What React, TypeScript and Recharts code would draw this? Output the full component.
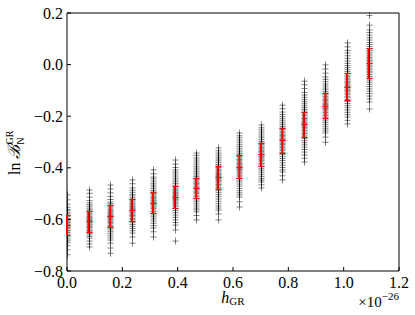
import { ScatterChart, Scatter, XAxis, YAxis, Label } from "recharts";

// h_GR injection amplitudes (units of 1e-26)
const hValues = [0, 0.078, 0.156, 0.234, 0.311, 0.389, 0.467, 0.545, 0.623, 0.701, 0.778, 0.856, 0.934, 1.012, 1.09];

// ln B values of every run, one list per h_GR column
const lnB = [
  [-0.505, -0.524, -0.541, -0.553, -0.561, -0.566, -0.574, -0.579, -0.586, -0.59, -0.597, -0.601, -0.606, -0.611, -0.614, -0.619, -0.623, -0.627, -0.632, -0.636, -0.642, -0.645, -0.651, -0.657, -0.662, -0.668, -0.676, -0.683, -0.691, -0.702, -0.718, -0.737],
  [-0.486, -0.499, -0.514, -0.527, -0.536, -0.543, -0.549, -0.556, -0.561, -0.567, -0.572, -0.578, -0.583, -0.588, -0.592, -0.597, -0.601, -0.605, -0.609, -0.613, -0.618, -0.622, -0.627, -0.632, -0.637, -0.643, -0.648, -0.654, -0.66, -0.666, -0.673, -0.684, -0.695, -0.707],
  [-0.467, -0.482, -0.497, -0.511, -0.523, -0.533, -0.539, -0.545, -0.551, -0.556, -0.562, -0.567, -0.571, -0.576, -0.58, -0.585, -0.589, -0.593, -0.598, -0.602, -0.607, -0.612, -0.617, -0.623, -0.628, -0.634, -0.641, -0.648, -0.656, -0.664, -0.672, -0.68, -0.692, -0.711, -0.731],
  [-0.447, -0.462, -0.478, -0.487, -0.495, -0.503, -0.509, -0.516, -0.522, -0.528, -0.533, -0.539, -0.544, -0.549, -0.553, -0.558, -0.562, -0.566, -0.571, -0.575, -0.58, -0.585, -0.59, -0.596, -0.601, -0.607, -0.613, -0.62, -0.627, -0.635, -0.644, -0.653, -0.668, -0.692],
  [-0.408, -0.423, -0.436, -0.443, -0.452, -0.46, -0.467, -0.474, -0.481, -0.488, -0.494, -0.5, -0.505, -0.51, -0.515, -0.52, -0.525, -0.529, -0.534, -0.538, -0.543, -0.548, -0.553, -0.558, -0.564, -0.57, -0.576, -0.583, -0.59, -0.598, -0.606, -0.615, -0.624, -0.633, -0.648, -0.668],
  [-0.37, -0.386, -0.399, -0.408, -0.416, -0.424, -0.432, -0.44, -0.447, -0.454, -0.461, -0.467, -0.473, -0.479, -0.485, -0.49, -0.495, -0.5, -0.505, -0.509, -0.514, -0.518, -0.523, -0.528, -0.533, -0.539, -0.545, -0.551, -0.558, -0.566, -0.574, -0.583, -0.592, -0.602, -0.612, -0.622, -0.641, -0.684],
  [-0.343, -0.352, -0.362, -0.37, -0.378, -0.386, -0.394, -0.401, -0.408, -0.415, -0.421, -0.428, -0.434, -0.44, -0.445, -0.451, -0.456, -0.461, -0.466, -0.471, -0.476, -0.48, -0.485, -0.49, -0.495, -0.5, -0.506, -0.512, -0.518, -0.525, -0.532, -0.54, -0.548, -0.556, -0.563, -0.571, -0.585, -0.602],
  [-0.323, -0.334, -0.343, -0.351, -0.359, -0.366, -0.373, -0.38, -0.387, -0.393, -0.399, -0.405, -0.41, -0.416, -0.421, -0.426, -0.431, -0.435, -0.44, -0.444, -0.449, -0.454, -0.459, -0.465, -0.47, -0.476, -0.482, -0.489, -0.496, -0.504, -0.512, -0.521, -0.53, -0.539, -0.548, -0.556, -0.564, -0.579, -0.602],
  [-0.265, -0.276, -0.284, -0.293, -0.301, -0.309, -0.317, -0.324, -0.331, -0.338, -0.344, -0.35, -0.356, -0.362, -0.368, -0.373, -0.378, -0.383, -0.388, -0.393, -0.397, -0.402, -0.407, -0.412, -0.417, -0.423, -0.429, -0.435, -0.441, -0.448, -0.455, -0.463, -0.471, -0.48, -0.489, -0.497, -0.505, -0.513, -0.532, -0.552],
  [-0.234, -0.245, -0.253, -0.261, -0.269, -0.277, -0.284, -0.291, -0.298, -0.304, -0.31, -0.316, -0.322, -0.327, -0.332, -0.337, -0.342, -0.347, -0.351, -0.356, -0.361, -0.366, -0.371, -0.377, -0.383, -0.389, -0.395, -0.402, -0.409, -0.417, -0.425, -0.433, -0.441, -0.448, -0.455, -0.466, -0.478],
  [-0.157, -0.171, -0.184, -0.193, -0.202, -0.21, -0.218, -0.226, -0.233, -0.24, -0.246, -0.252, -0.258, -0.264, -0.27, -0.275, -0.28, -0.285, -0.29, -0.295, -0.3, -0.305, -0.31, -0.316, -0.322, -0.328, -0.334, -0.341, -0.348, -0.356, -0.364, -0.372, -0.381, -0.39, -0.399, -0.408, -0.416, -0.431, -0.447],
  [-0.064, -0.078, -0.093, -0.108, -0.118, -0.127, -0.136, -0.144, -0.152, -0.16, -0.167, -0.174, -0.18, -0.186, -0.192, -0.198, -0.204, -0.209, -0.214, -0.219, -0.224, -0.229, -0.234, -0.239, -0.244, -0.249, -0.255, -0.261, -0.267, -0.273, -0.28, -0.287, -0.295, -0.303, -0.311, -0.32, -0.329, -0.339, -0.35, -0.363, -0.378],
  [-0.001, -0.017, -0.033, -0.048, -0.057, -0.066, -0.075, -0.083, -0.091, -0.098, -0.105, -0.111, -0.117, -0.123, -0.129, -0.135, -0.14, -0.145, -0.15, -0.155, -0.16, -0.165, -0.17, -0.175, -0.18, -0.186, -0.192, -0.198, -0.204, -0.211, -0.218, -0.225, -0.233, -0.241, -0.249, -0.257, -0.265, -0.281, -0.301],
  [0.084, 0.069, 0.055, 0.045, 0.034, 0.024, 0.014, 0.005, -0.004, -0.012, -0.02, -0.027, -0.034, -0.041, -0.047, -0.053, -0.059, -0.065, -0.07, -0.075, -0.08, -0.085, -0.09, -0.095, -0.1, -0.105, -0.111, -0.117, -0.123, -0.129, -0.136, -0.143, -0.151, -0.159, -0.167, -0.176, -0.185, -0.194, -0.203, -0.216, -0.23],
  [0.19, 0.153, 0.134, 0.124, 0.114, 0.104, 0.095, 0.086, 0.078, 0.07, 0.062, 0.055, 0.048, 0.041, 0.034, 0.028, 0.022, 0.016, 0.01, 0.004, -0.002, -0.008, -0.014, -0.02, -0.026, -0.032, -0.039, -0.046, -0.053, -0.06, -0.068, -0.076, -0.085, -0.094, -0.103, -0.112, -0.122, -0.133, -0.145, -0.172],
];

// mean and standard deviation per column (red error bars)
const means = [-0.622, -0.608, -0.587, -0.563, -0.535, -0.513, -0.478, -0.437, -0.395, -0.348, -0.294, -0.232, -0.159, -0.085, 0.006];
const sigmas = [0.039, 0.041, 0.043, 0.043, 0.041, 0.043, 0.039, 0.045, 0.045, 0.045, 0.048, 0.048, 0.048, 0.052, 0.058];

const xTicks = [0, 0.2, 0.4, 0.6, 0.8, 1.0, 1.2];
const yTicks = [-0.8, -0.6, -0.4, -0.2, 0.0, 0.2];

const FONT = "'Liberation Serif', 'DejaVu Serif', serif";
const RED = "#ff0000";

const runs = hValues.flatMap((h, i) => lnB[i].map((v) => ({ x: h, y: v })));
const centres = hValues.map((h, i) => ({ x: h, y: means[i] }));
const bars = hValues.map((h, i) => [
  { x: h, y: means[i] - sigmas[i] },
  { x: h, y: means[i] + sigmas[i] },
]);

const fmt = (v: number) => {
  const s = Math.abs(v).toFixed(1);
  return v < 0 ? `\u2212${s}` : s;
};

const crisp = (v: number) => Math.round(v) + 0.5;

// marks sitting on the left spine only show their right half, like the axes clip
const Plus = (props: any) => {
  const cx = crisp(props.cx);
  const cy = props.cy;
  const onEdge = props.payload && props.payload.x === 0;
  return (
    <g stroke="#000" strokeOpacity={0.5} strokeWidth={1}>
      <line x1={onEdge ? cx : cx - 3} y1={cy} x2={cx + 3} y2={cy} />
      <line x1={cx} y1={cy - 3.5} x2={cx} y2={cy + 3.5} />
    </g>
  );
};

const Cap = (props: any) => {
  const cx = crisp(props.cx);
  const cy = crisp(props.cy);
  const onEdge = props.payload && props.payload.x === 0;
  return <line x1={onEdge ? cx : cx - 3} y1={cy} x2={cx + 3} y2={cy} stroke={RED} strokeWidth={1} />;
};

const BottomTick = (props: any) => {
  const { x, y, payload } = props;
  return (
    <text x={x} y={y + 13} textAnchor="middle" fontFamily={FONT} fontSize={16} fill="#000">
      {fmt(payload.value)}
    </text>
  );
};

const LeftTick = (props: any) => {
  const { x, y, payload } = props;
  return (
    <text x={x} y={y + 5.5} textAnchor="end" fontFamily={FONT} fontSize={16} fill="#000">
      {fmt(payload.value)}
    </text>
  );
};

const XLabel = (props: any) => {
  const { viewBox } = props;
  const cx = viewBox.x + viewBox.width / 2;
  const right = viewBox.x + viewBox.width;
  return (
    <g fontFamily={FONT} fill="#000">
      <text x={cx} y={303} textAnchor="middle" fontSize={16}>
        <tspan fontStyle="italic">h</tspan>
        <tspan fontSize={11} dy={2}>GR</tspan>
      </text>
      <text x={right} y={307} textAnchor="end" fontSize={15}>
        <tspan>×10</tspan>
        <tspan fontSize={11} dy={-7}>{"\u221226"}</tspan>
      </text>
    </g>
  );
};

const YLabel = () => (
  <text transform="translate(20,175) rotate(-90)" fontFamily={FONT} fontSize={16} fill="#000">
    <tspan>ln </tspan>
    <tspan fontFamily="'DejaVu Serif', serif" fontStyle="italic" fontSize={17}>ℬ</tspan>
    <tspan fontSize={10} dy={-7}>GR</tspan>
    <tspan fontSize={10} dx={-14} dy={11}>N</tspan>
  </text>
);

export default function App() {
  return (
    <div style={{ position: "absolute", left: 0, top: 0, width: 415, height: 315, background: "#fff" }}>
      <ScatterChart width={415} height={315} margin={{ top: 12, right: 15, bottom: 0, left: 0 }}>
        <XAxis
          xAxisId="b"
          type="number"
          dataKey="x"
          domain={[0, 1.2]}
          ticks={xTicks}
          height={44}
          stroke="#000"
          tickSize={-4}
          tickMargin={8}
          tick={<BottomTick />}
        >
          <Label content={<XLabel />} />
        </XAxis>
        <XAxis
          xAxisId="t"
          orientation="top"
          type="number"
          dataKey="x"
          domain={[0, 1.2]}
          ticks={xTicks}
          height={1}
          stroke="#000"
          tickSize={-4}
          tickFormatter={() => ""}
        />
        <YAxis
          yAxisId="l"
          type="number"
          dataKey="y"
          domain={[-0.8, 0.2]}
          ticks={yTicks}
          width={67}
          stroke="#000"
          tickSize={-4}
          tickMargin={8}
          tick={<LeftTick />}
        >
          <Label content={<YLabel />} />
        </YAxis>
        <YAxis
          yAxisId="r"
          orientation="right"
          type="number"
          dataKey="y"
          domain={[-0.8, 0.2]}
          ticks={yTicks}
          width={1}
          stroke="#000"
          tickSize={-4}
          tickFormatter={() => ""}
        />
        <Scatter
          xAxisId="b"
          yAxisId="l"
          data={runs}
          shape={<Plus />}
          isAnimationActive={false}
        />
        {bars.map((bar, i) => (
          <Scatter
            key={`bar-${i}`}
            xAxisId="b"
            yAxisId="l"
            data={bar}
            shape={<Cap />}
            line={{ stroke: RED, strokeWidth: 2 }}
            isAnimationActive={false}
          />
        ))}
        <Scatter
          xAxisId="b"
          yAxisId="l"
          data={centres}
          shape={<Cap />}
          isAnimationActive={false}
        />
      </ScatterChart>
    </div>
  );
}
